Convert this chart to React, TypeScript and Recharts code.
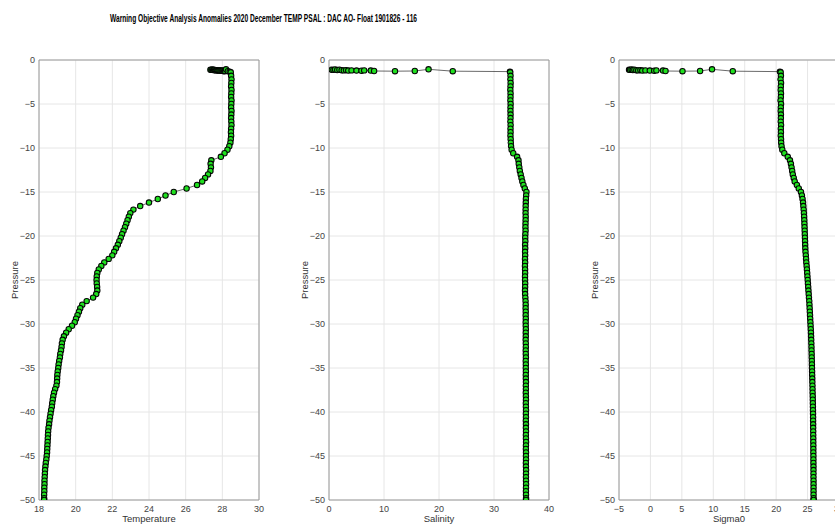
import React from 'react';
import { ScatterChart, Scatter, XAxis, YAxis, CartesianGrid, ReferenceLine } from 'recharts';

const FONT = '"Liberation Sans", Arial, Helvetica, sans-serif';

// Near-surface samples (dbar) with the flagged salinity anomalies
const surfacePressure = [1.10, 1.12, 1.08, 1.14, 1.10, 1.16, 1.18, 1.15, 1.20, 1.18, 1.20, 1.22, 1.18, 1.20, 1.25, 1.27, 1.25, 1.06, 1.27, 1.32];
const surfaceTemp = [27.35, 27.4, 27.45, 27.5, 27.55, 27.6, 27.65, 27.7, 27.75, 27.8, 27.85, 27.9, 27.95, 28.0, 28.05, 28.1, 28.15, 28.2, 28.3, 28.4];
const surfacePsal = [0.5, 0.8, 1.1, 1.5, 1.9, 2.3, 2.7, 3.1, 3.5, 4.1, 5.0, 5.9, 6.4, 7.6, 8.2, 12.0, 15.6, 18.1, 22.5, 32.9];
const surfaceSigma = [-3.4, -3.25, -3.0, -2.8, -2.55, -2.25, -1.95, -1.6, -1.3, -0.8, -0.1, 0.6, 0.95, 2.0, 2.4, 5.1, 7.9, 9.8, 13.1, 20.6];

// Profile pressure levels (dbar)
const profilePressure = [
  1.4, 1.8, 2.2, 2.6, 3.0, 3.4, 3.8, 4.2, 4.6, 5.0,
  5.4, 5.8, 6.2, 6.6, 7.0, 7.4, 7.8, 8.2, 8.6, 9.0,
  9.4, 9.8, 10.2, 10.6, 11.0, 11.4, 11.8, 12.2, 12.6, 13.0,
  13.4, 13.8, 14.2, 14.6, 15.0, 15.4, 15.8, 16.2, 16.6, 17.0,
  17.4, 17.8, 18.2, 18.6, 19.0, 19.4, 19.8, 20.2, 20.6, 21.0,
  21.4, 21.8, 22.2, 22.6, 23.0, 23.4, 23.8, 24.2, 24.6, 25.0,
  25.4, 25.8, 26.2, 26.6, 27.0, 27.4, 27.8, 28.2, 28.6, 29.0,
  29.4, 29.8, 30.2, 30.6, 31.0, 31.4, 31.8, 32.2, 32.6, 33.0,
  33.4, 33.8, 34.2, 34.6, 35.0, 35.4, 35.8, 36.2, 36.6, 37.0,
  37.4, 37.8, 38.2, 38.6, 39.0, 39.4, 39.8, 40.2, 40.6, 41.0,
  41.4, 41.8, 42.2, 42.6, 43.0, 43.4, 43.8, 44.2, 44.6, 45.0,
  45.4, 45.8, 46.2, 46.6, 47.0, 47.4, 47.8, 48.2, 48.6, 49.0,
  49.4, 49.8, 50.0,
];

const profileTemp = [
  28.46, 28.48, 28.5, 28.49, 28.48, 28.5, 28.49, 28.48, 28.5, 28.49,
  28.48, 28.5, 28.49, 28.48, 28.49, 28.5, 28.48, 28.47, 28.48, 28.46,
  28.44, 28.38, 28.28, 28.12, 27.92, 27.4, 27.36, 27.38, 27.35, 27.22,
  27.06, 26.9, 26.62, 26.05, 25.35, 24.9, 24.48, 24.0, 23.52, 23.15,
  22.98, 22.9, 22.83, 22.76, 22.69, 22.61, 22.53, 22.46, 22.38, 22.3,
  22.2, 22.1, 22.0, 21.8, 21.56, 21.4, 21.26, 21.18, 21.15, 21.14,
  21.15, 21.17, 21.18, 21.12, 20.95, 20.6, 20.36, 20.25, 20.18, 20.1,
  20.02, 19.95, 19.8, 19.62, 19.48, 19.36, 19.29, 19.25, 19.23, 19.2,
  19.16, 19.14, 19.1, 19.07, 19.05, 19.02, 19.0, 18.99, 18.98, 18.95,
  18.88, 18.82, 18.78, 18.75, 18.72, 18.7, 18.66, 18.63, 18.6, 18.57,
  18.55, 18.52, 18.5, 18.49, 18.48, 18.47, 18.46, 18.45, 18.44, 18.42,
  18.4, 18.37, 18.35, 18.33, 18.32, 18.31, 18.3, 18.3, 18.29, 18.29,
  18.28, 18.28, 18.28,
];

const profilePsal = [
  32.95, 33.0, 32.98, 33.02, 33.0, 32.97, 33.01, 33.0, 32.98, 33.02,
  33.0, 32.99, 33.01, 33.0, 32.98, 33.02, 33.0, 33.01, 32.99, 33.03,
  33.05, 33.1, 33.2, 33.5, 34.2, 34.45, 34.5, 34.6, 34.7, 34.85,
  35.0, 35.15, 35.35, 35.6, 35.9, 35.85, 35.8, 35.78, 35.76, 35.75,
  35.74, 35.76, 35.75, 35.73, 35.72, 35.74, 35.7, 35.68, 35.7, 35.66,
  35.68, 35.65, 35.67, 35.64, 35.66, 35.63, 35.65, 35.66, 35.64, 35.65,
  35.67, 35.66, 35.64, 35.66, 35.7, 35.74, 35.76, 35.75, 35.77, 35.76,
  35.78, 35.76, 35.77, 35.79, 35.77, 35.78, 35.76, 35.78, 35.79, 35.77,
  35.78, 35.8, 35.77, 35.79, 35.78, 35.8, 35.78, 35.79, 35.81, 35.79,
  35.8, 35.78, 35.8, 35.81, 35.79, 35.8, 35.82, 35.8, 35.81, 35.79,
  35.81, 35.8, 35.82, 35.8, 35.81, 35.83, 35.81, 35.8, 35.82, 35.81,
  35.82, 35.8, 35.81, 35.83, 35.82, 35.81, 35.82, 35.83, 35.82, 35.81,
  35.82, 35.83, 35.82,
];

const profileSigma = [
  20.72, 20.76, 20.7, 20.78, 20.74, 20.72, 20.77, 20.75, 20.7, 20.78,
  20.74, 20.72, 20.76, 20.75, 20.73, 20.78, 20.74, 20.76, 20.73, 20.78,
  20.8, 20.86, 20.98, 21.3, 21.85, 22.2, 22.35, 22.45, 22.55, 22.65,
  22.8, 22.95, 23.3, 23.6, 23.95, 24.1, 24.2, 24.28, 24.33, 24.38,
  24.42, 24.45, 24.48, 24.5, 24.52, 24.54, 24.56, 24.58, 24.6, 24.62,
  24.64, 24.67, 24.72, 24.76, 24.8, 24.85, 24.9, 24.94, 24.98, 25.02,
  25.06, 25.1, 25.14, 25.18, 25.22, 25.27, 25.3, 25.33, 25.36, 25.39,
  25.42, 25.45, 25.48, 25.51, 25.54, 25.56, 25.58, 25.6, 25.62, 25.63,
  25.65, 25.66, 25.68, 25.69, 25.7, 25.72, 25.73, 25.75, 25.76, 25.78,
  25.79, 25.8, 25.82, 25.83, 25.84, 25.85, 25.86, 25.87, 25.88, 25.88,
  25.89, 25.89, 25.9, 25.9, 25.91, 25.91, 25.92, 25.92, 25.92, 25.93,
  25.93, 25.93, 25.94, 25.94, 25.94, 25.94, 25.95, 25.95, 25.95, 25.95,
  25.95, 25.96, 25.96,
];

const yTicks = [-50, -45, -40, -35, -30, -25, -20, -15, -10, -5, 0];
const tempTicks = [18, 20, 22, 24, 26, 28, 30];
const psalTicks = [0, 10, 20, 30, 40];
const sigmaTicks = [-5, 0, 5, 10, 15, 20, 25, 30];

const allPressure = [...surfacePressure, ...profilePressure];
const build = (vals: number[]) => allPressure.map((p, i) => ({ x: vals[i], y: -p }));

const tempData = build([...surfaceTemp, ...profileTemp]);
const psalData = build([...surfacePsal, ...profilePsal]);
const sigmaData = build([...surfaceSigma, ...profileSigma]);

const fmt = (v: number) => (v < 0 ? `\u2212${-v}` : `${v}`);

const Dot = (props: any) => {
  if (props.cx == null || props.cy == null) return null;
  return <circle cx={props.cx} cy={props.cy} r={2.7} fill="#1fe01f" stroke="#050505" strokeWidth={1.05} />;
};

const AXIS = '#9a9a9a';
const TICK = { fontSize: 9, fill: '#444', fontFamily: FONT };

function Panel({ left, data, domain, ticks, xLabel }: any) {
  return (
    <div style={{ position: 'absolute', left, top: 0 }}>
      <ScatterChart width={265} height={525} margin={{ top: 60, right: 6, bottom: 0, left: 0 }}>
        <CartesianGrid stroke="#e6e6e6" strokeWidth={1} />
        <XAxis
          type="number"
          dataKey="x"
          domain={domain}
          ticks={ticks}
          interval={0}
          allowDataOverflow
          height={25}
          tickLine={false}
          tickSize={4}
          tickMargin={2}
          axisLine={{ stroke: AXIS }}
          tick={TICK}
          tickFormatter={fmt}
          label={{
            content: (p: any) => {
              const vb = p.viewBox || { x: 39, width: 220 };
              return (
                <text x={vb.x + vb.width / 2} y={522} textAnchor="middle" fontSize={9.5} fill="#333" fontFamily={FONT}>
                  {xLabel}
                </text>
              );
            },
          }}
        />
        <YAxis
          type="number"
          dataKey="y"
          domain={[-50, 0]}
          ticks={yTicks}
          interval={0}
          allowDataOverflow
          width={39}
          tickLine={false}
          tickSize={2}
          tickMargin={2}
          axisLine={{ stroke: AXIS }}
          tick={TICK}
          tickFormatter={fmt}
          label={{
            content: (p: any) => {
              const vb = p.viewBox || { y: 60, height: 440 };
              const cy = vb.y + vb.height / 2;
              return (
                <text x={18} y={cy} transform={`rotate(-90 18 ${cy})`} textAnchor="middle" fontSize={9.5} fill="#333" fontFamily={FONT}>
                  Pressure
                </text>
              );
            },
          }}
        />
        <ReferenceLine y={0} stroke={AXIS} />
        <ReferenceLine x={domain[1]} stroke={AXIS} />
        <Scatter
          data={data}
          line={{ stroke: '#2a2a2a', strokeWidth: 0.7 }}
          lineType="joint"
          shape={<Dot />}
          isAnimationActive={false}
        />
      </ScatterChart>
    </div>
  );
}

export default function App() {
  return (
    <div style={{ position: 'absolute', left: 0, top: 0, width: 835, height: 525, overflow: 'hidden', background: '#fff' }}>
      <svg width={835} height={40} style={{ position: 'absolute', left: 0, top: 0 }}>
        <text
          x={263.5}
          y={21.5}
          textAnchor="middle"
          fontSize={10.5}
          fontWeight="bold"
          fill="#000"
          fontFamily={FONT}
          textLength={307}
          lengthAdjust="spacingAndGlyphs"
        >
          Warning Objective Analysis Anomalies 2020 December TEMP PSAL :  DAC AO- Float 1901826 - 116
        </text>
      </svg>
      <Panel left={0} data={tempData} domain={[18, 30]} ticks={tempTicks} xLabel="Temperature" />
      <Panel left={290} data={psalData} domain={[0, 40]} ticks={psalTicks} xLabel="Salinity" />
      <Panel left={580} data={sigmaData} domain={[-5, 30]} ticks={sigmaTicks} xLabel="Sigma0" />
    </div>
  );
}
